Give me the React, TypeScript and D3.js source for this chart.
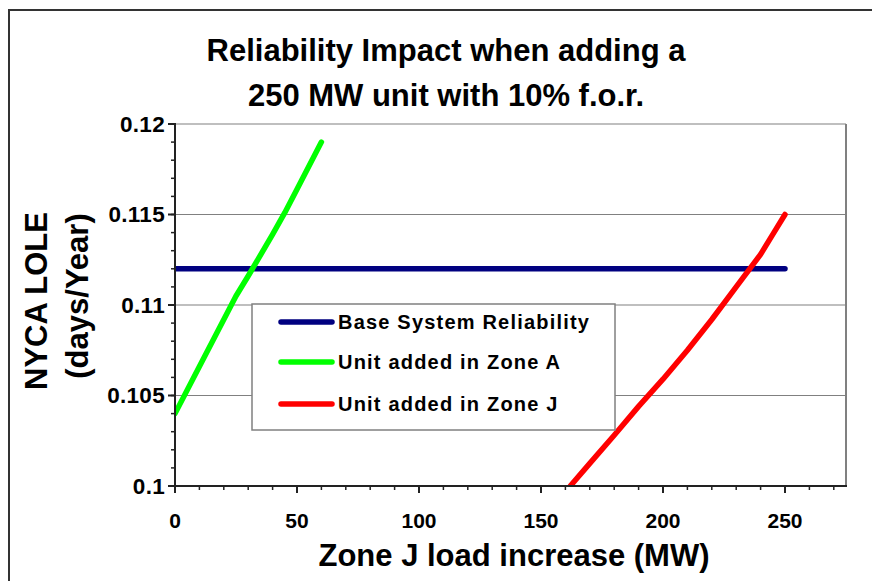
import React from "react";
import * as d3 from "d3";

const baseX = [0, 250];
const baseY = [0.112, 0.112];

const zoneAX = [0, 10, 20, 25, 30, 40, 45, 50, 60];
const zoneAY = [0.104, 0.1066, 0.1092, 0.1105, 0.1116, 0.1139, 0.1151, 0.1164, 0.119];

const zoneJX = [162, 170, 180, 190, 200, 210, 220, 230, 240, 245, 250];
const zoneJY = [0.1, 0.10125, 0.1028, 0.1044, 0.1059, 0.1075, 0.1092, 0.111, 0.1128, 0.1139, 0.115];

const xTicks = [0, 50, 100, 150, 200, 250];
const xTickLabels = ["0", "50", "100", "150", "200", "250"];
const yTicks = [0.1, 0.105, 0.11, 0.115, 0.12];
const yTickLabels = ["0.1", "0.105", "0.11", "0.115", "0.12"];

const seriesNames = ["Base System Reliability", "Unit added in Zone A", "Unit added in Zone J"];
const seriesColors = ["#000080", "#00ff00", "#ff0000"];

const titleLines = ["Reliability Impact when adding a", "250 MW unit with 10% f.o.r."];
const yTitleLines = ["NYCA LOLE", "(days/Year)"];
const xTitle = "Zone J load increase (MW)";

const FONT = "'Liberation Sans', Arial, Helvetica, sans-serif";

export default function App() {
  const W = 872, H = 581;
  const left = 175, right = 846, top = 124, bottom = 486;
  const x = d3.scaleLinear().domain([0, 275]).range([left, right]);
  const y = d3.scaleLinear().domain([0.1, 0.12]).range([bottom, top]);

  const mk = (xs: number[], ys: number[]) =>
    d3.line<number>().x((_, i) => x(xs[i])).y((_, i) => y(ys[i]))(xs) || "";

  const series = [
    mk(baseX, baseY),
    mk(zoneAX, zoneAY),
    mk(zoneJX, zoneJY),
  ];

  const xMinor = d3.range(0, 271, 10);
  const yMinor = d3.range(0, 21).map((i) => 0.1 + i * 0.001);

  const legX = 252, legY = 304, legW = 363, legH = 126;
  const legRows = [322, 362, 404];

  return (
    <svg width={W} height={H} style={{ position: "absolute", left: 0, top: 0 }} fontFamily={FONT}>
      <rect x={0} y={0} width={W} height={H} fill="#fff" />
      <path d="M9,581 V10 H872" fill="none" stroke="#333" strokeWidth={2} />
      <defs>
        <clipPath id="plotClip">
          <rect x={left} y={top - 10} width={right - left} height={bottom - top + 10} />
        </clipPath>
      </defs>

      {/* title */}
      <text x={446} y={61} textAnchor="middle" fontSize={31} fontWeight="bold">{titleLines[0]}</text>
      <text x={446} y={106} textAnchor="middle" fontSize={31} fontWeight="bold">{titleLines[1]}</text>

      {/* gridlines */}
      {yTicks.map((t, i) => (
        <line key={"g" + i} x1={left} x2={right} y1={y(t)} y2={y(t)} stroke="#808080" strokeWidth={1.2} />
      ))}
      <line x1={right} x2={right} y1={top} y2={bottom} stroke="#808080" strokeWidth={2} />

      {/* series */}
      <g clipPath="url(#plotClip)">
        {series.map((d, i) => (
          <path key={"s" + i} d={d} fill="none" stroke={seriesColors[i]} strokeWidth={5.5}
            strokeLinecap="round" strokeLinejoin="round" />
        ))}
      </g>

      {/* axes */}
      <line x1={left} x2={left} y1={top - 1} y2={bottom + 1} stroke="#222" strokeWidth={2} />
      <line x1={left - 1} x2={right + 1} y1={bottom} y2={bottom} stroke="#222" strokeWidth={2} />
      {yMinor.map((t, i) => (
        <line key={"ym" + i} x1={left - 4} x2={left} y1={y(t)} y2={y(t)} stroke="#222" strokeWidth={1.5} />
      ))}
      {yTicks.map((t, i) => (
        <g key={"yt" + i}>
          <line x1={left - 7} x2={left} y1={y(t)} y2={y(t)} stroke="#222" strokeWidth={2} />
          <text x={165} y={y(t) + 7.5} textAnchor="end" fontSize={22.5} fontWeight="bold" letterSpacing={0.3}>{yTickLabels[i]}</text>
        </g>
      ))}
      {xMinor.map((t, i) => (
        <line key={"xm" + i} x1={x(t)} x2={x(t)} y1={bottom} y2={bottom + 4} stroke="#222" strokeWidth={1.5} />
      ))}
      {xTicks.map((t, i) => (
        <g key={"xt" + i}>
          <line x1={x(t)} x2={x(t)} y1={bottom} y2={bottom + 7} stroke="#222" strokeWidth={2} />
          <text x={x(t)} y={528} textAnchor="middle" fontSize={21} fontWeight="bold">{xTickLabels[i]}</text>
        </g>
      ))}

      {/* axis titles */}
      <text x={514} y={566} textAnchor="middle" fontSize={31} fontWeight="bold">{xTitle}</text>
      <text transform="translate(47,301) rotate(-90)" textAnchor="middle" fontSize={31} fontWeight="bold">{yTitleLines[0]}</text>
      <text transform="translate(88,296) rotate(-90)" textAnchor="middle" fontSize={31} fontWeight="bold">{yTitleLines[1]}</text>

      {/* legend */}
      <rect x={legX} y={legY} width={legW} height={legH} fill="#fff" stroke="#808080" strokeWidth={1.5} />
      {seriesNames.map((n, i) => (
        <g key={"l" + i}>
          <line x1={281} x2={332} y1={legRows[i]} y2={legRows[i]} stroke={seriesColors[i]} strokeWidth={5.5} strokeLinecap="round" />
          <text x={338} y={legRows[i] + 7} fontSize={20} fontWeight="bold" letterSpacing={1.2}>{n}</text>
        </g>
      ))}
    </svg>
  );
}
